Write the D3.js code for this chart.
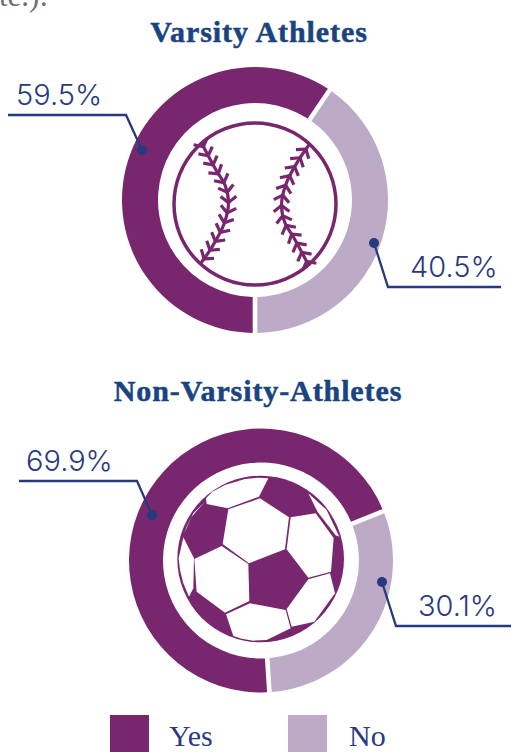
<!DOCTYPE html>
<html>

<head>
  <meta charset="UTF-8" />
  <title>Varsity and Non-Varsity Athletes</title>
  <style>
    html, body {
      margin: 0;
      padding: 0;
      background: white;
      overflow: hidden;
    }

    .title {
      font-family: "Liberation Serif", serif;
      font-weight: 700;
      font-size: 30px;
      fill: #1a4480;
      stroke: #1a4480;
      stroke-width: 0.5px;
    }

    .pct {
      font-family: Inter, sans-serif;
      font-weight: 300;
      font-size: 29px;
      fill: #2b3a80;
    }

    .legend-label {
      font-family: "Liberation Serif", serif;
      font-size: 30px;
      fill: #2b3a80;
    }
  </style>
  <script src="https://d3js.org/d3.v7.min.js"></script>
</head>

<body>
  <script>
    let categories = ["Yes", "No"],
      charts = ["Varsity Athletes", "Non-Varsity-Athletes"],
      varsity = [59.5, 40.5],
      nonVarsity = [69.9, 30.1],
      colors = d3.scaleOrdinal().domain(categories).range(["#78276e", "#bdaac6"]),
      navy = "#27397f",
      width = 514,
      height = 752;

    let svg = d3.select("body")
      .append("svg")
      .attr("width", width)
      .attr("height", height);

    /* Cut off text from the paragraph above */
    svg.append("text")
      .attr("x", -1)
      .attr("y", 6)
      .attr("font-family", "Liberation Serif, serif")
      .attr("font-size", 31)
      .attr("fill", "#707070")
      .text("te.):");

    /* One donut. The ring runs clockwise starting at the No slice, so the
       pie is turned until that slice lands where the picture has it */
    function donut(title, values, o) {
      let data = categories.map((c, i) => ({ c: c, v: values[i] })).reverse();
      let pie = d3.pie()
        .sort(null)
        .value(d => d.v)
        .startAngle(o.start * Math.PI / 180)
        .endAngle((o.start + 360) * Math.PI / 180);
      let arc = d3.arc()
        .innerRadius(o.inner)
        .outerRadius(o.outer)
        .padAngle(0.04)
        .padRadius(115);

      svg.append("text")
        .attr("class", "title")
        .attr("x", o.titleX)
        .attr("y", o.titleY)
        .attr("text-anchor", "middle")
        .attr("letter-spacing", o.spacing)
        .text(title);

      let g = svg.append("g")
        .attr("transform", `translate(${o.cx},${o.cy})`);

      g.selectAll("path")
        .data(pie(data))
        .enter()
        .append("path")
        .attr("d", arc)
        .attr("fill", d => colors(d.data.c));

      /* Callouts */
      values.forEach((v, i) => {
        let c = o.callouts[i];
        svg.append("path")
          .attr("d", d3.line()(c.line))
          .attr("fill", "none")
          .attr("stroke", navy)
          .attr("stroke-width", 2.3);
        svg.append("circle")
          .attr("cx", c.line[0][0])
          .attr("cy", c.line[0][1])
          .attr("r", 5)
          .attr("fill", navy);
        svg.append("text")
          .attr("class", "pct")
          .attr("x", c.x)
          .attr("y", c.y)
          .text(v.toFixed(1) + "%");
      });
    }

    donut(charts[0], varsity, {
      cx: 255, cy: 200, inner: 97, outer: 133, start: 34.2, titleX: 259, titleY: 42, spacing: 0.9,
      callouts: [
        { line: [[142, 150], [126, 115], [8, 115]], x: 16, y: 105 },
        { line: [[374, 243], [388, 287], [501, 287]], x: 410, y: 277 }
      ]
    });

    donut(charts[1], nonVarsity, {
      cx: 261, cy: 560.5, inner: 98, outer: 132, start: 68, titleX: 258, titleY: 401, spacing: 0.9,
      callouts: [
        { line: [[152, 515], [137, 481], [19, 481]], x: 26, y: 471 },
        { line: [[382, 582], [396, 626], [511, 626]], x: 418, y: 616 }
      ]
    });

    /* Baseball */
    let ball = svg.append("g");
    ball.append("circle")
      .attr("cx", 255)
      .attr("cy", 204)
      .attr("r", 81)
      .attr("fill", "white")
      .attr("stroke", colors("Yes"))
      .attr("stroke-width", 3.5);

    let seam = [[201, 142], [216, 170], [225, 185], [228.5, 203], [224, 224], [212, 247], [201, 263]];
    let seamPath = d3.line().curve(d3.curveCatmullRom)(seam);

    /* Stitches open towards the start of the seam */
    function stitches(sel) {
      let spine = sel.append("path")
        .attr("d", seamPath)
        .attr("fill", "none")
        .attr("stroke", colors("Yes"))
        .attr("stroke-width", 3.2);
      let node = spine.node(),
        len = node.getTotalLength(),
        n = 13;
      d3.range(n).forEach(i => {
        let l = len * (i + 0.5) / n,
          p = node.getPointAtLength(l),
          q = node.getPointAtLength(l - 1),
          a = Math.atan2(q.y - p.y, q.x - p.x);
        [-1, 1].forEach(s => {
          let b = a + s * 0.9;
          sel.append("line")
            .attr("x1", p.x)
            .attr("y1", p.y)
            .attr("x2", p.x + 10 * Math.cos(b))
            .attr("y2", p.y + 10 * Math.sin(b))
            .attr("stroke", colors("Yes"))
            .attr("stroke-width", 3.2);
        });
      });
    }

    stitches(ball.append("g"));
    stitches(ball.append("g").attr("transform", "rotate(180 255 204)"));

    let panels = [
      [[405, 205], [492, 262], [480, 358], [372, 400], [293, 342], [310, 238]],
      [[497, 262], [572, 250], [626, 324], [618, 425], [550, 443], [485, 358]],
      [[290, 348], [370, 402], [373, 513], [300, 548], [215, 485], [208, 387]],
      [[375, 520], [482, 540], [497, 595], [425, 630], [385, 632], [350, 626], [325, 618], [303, 553]],
      [[550, 448], [615, 430], [630, 490], [568, 575], [500, 590], [485, 537]],
      [[430, 145], [402, 200], [308, 235], [245, 222], [243, 205], [262, 185], [300, 165], [360, 147], [400, 143]],
      [[175, 322], [207, 385], [205, 475], [192, 500], [175, 460], [165, 420], [161, 385]],
      [[550, 190], [605, 240], [643, 320], [632, 316], [578, 246]],
      [[240, 215], [205, 250], [185, 290], [178, 310], [200, 260]]
    ];

    let soccer = svg.append("g")
      .attr("transform", "translate(125,430) scale(0.3333)");

    soccer.append("circle")
      .attr("cx", 407)
      .attr("cy", 387)
      .attr("r", 250)
      .attr("fill", colors("Yes"));

    soccer.selectAll("path")
      .data(panels)
      .enter()
      .append("path")
      .attr("d", d3.line().curve(d3.curveLinearClosed))
      .attr("fill", "white");

    /* Legend */
    let legend = svg.selectAll(".key")
      .data(categories)
      .enter()
      .append("g")
      .attr("class", "key")
      .attr("transform", (d, i) => `translate(${110 + i * 178},715)`);

    legend.append("rect")
      .attr("width", 39)
      .attr("height", 37)
      .attr("fill", d => colors(d));

    legend.append("text")
      .attr("class", "legend-label")
      .attr("x", (d, i) => 59 + i * 2)
      .attr("y", 31)
      .text(d => d);
  </script>
</body>

</html>
